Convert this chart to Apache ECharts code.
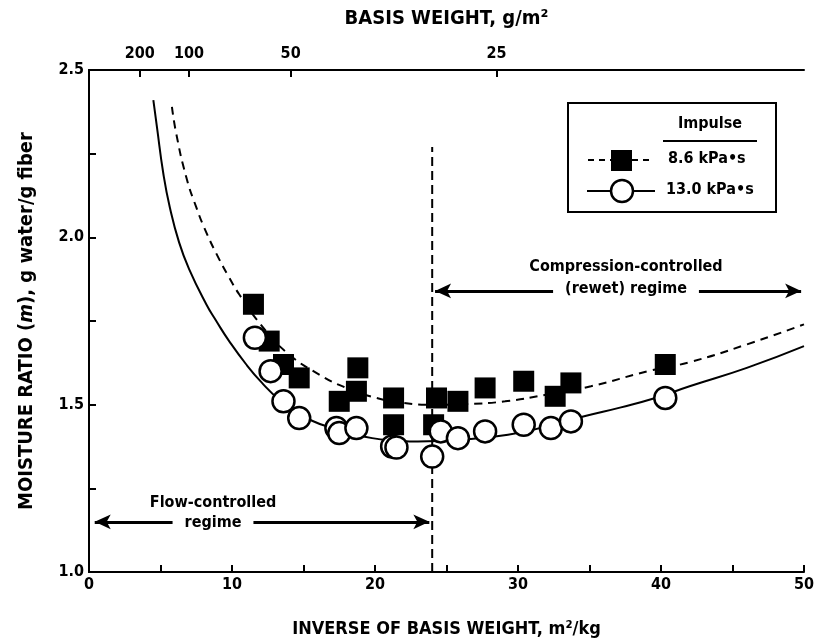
<!DOCTYPE html>
<html>
<head>
<meta charset="utf-8">
<script src="https://cdn.jsdelivr.net/npm/echarts@6/dist/echarts.min.js"></script>
<style>
  html, body { margin: 0; padding: 0; background: #fff; }
  #chart { width: 817px; height: 643px; }
</style>
</head>
<body>
<div id="chart"></div>
<script>
// measured points, impulse 8.6 kPa*s (filled squares)
var squares86 = [
  [11.5, 1.80], [12.6, 1.69], [13.6, 1.62], [14.7, 1.58], [17.5, 1.51],
  [18.8, 1.61], [18.7, 1.54], [21.3, 1.52], [21.3, 1.44], [24.1, 1.44],
  [24.3, 1.52], [25.8, 1.51], [27.7, 1.55], [30.4, 1.57], [32.6, 1.525],
  [33.7, 1.565], [40.3, 1.62]
];
// measured points, impulse 13.0 kPa*s (open circles)
var circles130 = [
  [11.6, 1.70], [12.7, 1.60], [13.6, 1.51], [14.7, 1.46], [17.3, 1.43],
  [17.5, 1.415], [18.7, 1.43], [21.2, 1.375], [21.5, 1.372], [24.0, 1.345],
  [24.6, 1.42], [25.8, 1.40], [27.7, 1.42], [30.4, 1.44], [32.3, 1.43],
  [33.7, 1.45], [40.3, 1.52]
];
// fitted curves
var curve86 = [
  [5.8, 2.39], [6.1, 2.31], [6.8, 2.18], [7.5, 2.09], [8.2, 2.015],
  [9.1, 1.935], [9.8, 1.88], [10.5, 1.83], [12.0, 1.74], [13.8, 1.657],
  [16.1, 1.59], [18.0, 1.55], [20.1, 1.52], [22.0, 1.505], [24, 1.50],
  [26.5, 1.502], [29.1, 1.51], [32.0, 1.53], [35.1, 1.555], [39.1, 1.60],
  [42, 1.627], [46, 1.68], [50, 1.74]
];
var curve130 = [
  [4.5, 2.41], [4.75, 2.33], [5.2, 2.19], [5.65, 2.09], [6.3, 1.985],
  [7.0, 1.905], [8.2, 1.80], [8.9, 1.75], [9.8, 1.69], [11.0, 1.62],
  [12.1, 1.565], [13.3, 1.515], [14.5, 1.478], [15.6, 1.452], [16.8, 1.433],
  [18.3, 1.415], [19.8, 1.40], [21.5, 1.393], [23, 1.39], [26, 1.395],
  [29.3, 1.41], [32.0, 1.435], [34.7, 1.466], [37.2, 1.492], [39.6, 1.52],
  [42, 1.555], [46, 1.61], [50, 1.675]
];
// regime boundary
var boundaryX = 24;
var boundaryTop = 2.27;
// top axis (basis weight, g/m2)
var topTickPos = [3.55, 7.0, 14.1, 28.5];
var topTickLabels = ['200', '100', '50', '25'];

var FONT = '"Liberation Sans Narrow", "DejaVu Sans Condensed", Arial, sans-serif';

var myChart = echarts.init(document.getElementById('chart'), null, { renderer: 'canvas' });

var axisLine = { show: true, lineStyle: { color: '#000', width: 2 } };
var tickIn = { show: true, inside: true, length: 7, lineStyle: { color: '#000', width: 2 } };
var labelStyle = { color: '#000', fontFamily: FONT, fontWeight: 'bold', fontSize: 16 };
var titleStyle = { color: '#000', fontFamily: FONT, fontWeight: 'bold', fontSize: 19 };

var option = {
  animation: false,
  backgroundColor: '#fff',
  grid: { left: 89, right: 9, top: 70, bottom: 70 },
  xAxis: [
    {
      type: 'value', min: 0, max: 50, interval: 5, position: 'bottom',
      axisLine: axisLine, axisTick: tickIn, splitLine: { show: false },
      axisLabel: Object.assign({}, labelStyle, {
        margin: 5,
        formatter: function (v) { return v % 10 === 0 ? String(v) : ''; }
      }),
      name: 'INVERSE OF BASIS WEIGHT, m²/kg',
      nameLocation: 'middle', nameGap: 48,
      nameTextStyle: Object.assign({}, titleStyle, { fontSize: 18 })
    },
    {
      type: 'value', min: 0, max: 50, position: 'top',
      axisLine: axisLine,
      axisTick: Object.assign({}, tickIn, { customValues: topTickPos }),
      splitLine: { show: false },
      axisLabel: Object.assign({}, labelStyle, {
        margin: 8,
        customValues: topTickPos,
        formatter: function (v) {
          var i = topTickPos.indexOf(v);
          return i >= 0 ? topTickLabels[i] : '';
        }
      }),
      name: 'BASIS WEIGHT, g/m²',
      nameLocation: 'middle', nameGap: 41,
      nameTextStyle: Object.assign({}, titleStyle, { fontSize: 20 })
    }
  ],
  yAxis: [
    {
      type: 'value', min: 1, max: 2.5, interval: 0.25,
      axisLine: axisLine, axisTick: tickIn, splitLine: { show: false },
      axisLabel: Object.assign({}, labelStyle, {
        margin: 5,
        formatter: function (v) {
          return Math.round(v * 100) % 50 === 0 ? v.toFixed(1) : '';
        }
      }),
      name: '{a|MOISTURE RATIO (}{b|m}{a|), g water/g fiber}',
      nameLocation: 'middle', nameGap: 52,
      nameTextStyle: {
        rich: {
          a: Object.assign({}, titleStyle, { fontSize: 20 }),
          b: Object.assign({}, titleStyle, { fontSize: 20, fontStyle: 'italic' })
        }
      }
    },
    {
      type: 'value', min: 1, max: 2.5, position: 'right',
      axisLine: axisLine, axisTick: { show: false }, axisLabel: { show: false },
      splitLine: { show: false }
    }
  ],
  series: [
    {
      name: 'curve 8.6', type: 'line', smooth: 0.5, showSymbol: false, z: 2,
      data: curve86,
      lineStyle: { color: '#000', width: 2, type: [8, 6] }
    },
    {
      name: 'curve 13.0', type: 'line', smooth: 0.5, showSymbol: false, z: 2,
      data: curve130,
      lineStyle: { color: '#000', width: 2 }
    },
    {
      name: 'boundary', type: 'line', showSymbol: false, z: 1,
      data: [[boundaryX, 1], [boundaryX, boundaryTop]],
      lineStyle: { color: '#000', width: 2, type: [9, 5] },
      markLine: {
        silent: true, symbol: ['arrow', 'arrow'], symbolSize: [11, 16],
        label: { show: false },
        lineStyle: { color: '#000', width: 3, type: 'solid' },
        data: [
          [{ coord: [0.4, 1.15] }, { coord: [23.8, 1.15] }],
          [{ coord: [24.2, 1.84] }, { coord: [49.8, 1.84] }]
        ]
      }
    },
    {
      name: '8.6 kPa•s', type: 'scatter', z: 3,
      symbol: 'rect', symbolSize: 21,
      itemStyle: { color: '#000', opacity: 1 },
      data: squares86
    },
    {
      name: '13.0 kPa•s', type: 'scatter', z: 4,
      symbol: 'circle', symbolSize: 22,
      itemStyle: { color: '#fff', borderColor: '#000', borderWidth: 2.5, opacity: 1 },
      data: circles130
    }
  ],
  graphic: [
    // regime labels (white background hides the arrow line behind "regime")
    { type: 'text', x: 213, y: 495, z: 100,
      style: { text: 'Flow-controlled', fill: '#000', font: 'bold 16px ' + FONT, align: 'center' } },
    { type: 'text', x: 213, y: 515, z: 100,
      style: { text: 'regime', fill: '#000', font: 'bold 16px ' + FONT, align: 'center',
        backgroundColor: '#fff', padding: [0, 12] } },
    { type: 'text', x: 626, y: 259, z: 100,
      style: { text: 'Compression-controlled', fill: '#000', font: 'bold 16px ' + FONT, align: 'center' } },
    { type: 'text', x: 626, y: 281, z: 100,
      style: { text: '(rewet) regime', fill: '#000', font: 'bold 16px ' + FONT, align: 'center',
        backgroundColor: '#fff', padding: [0, 12] } },
    // legend box
    { type: 'rect', shape: { x: 568, y: 103, width: 208, height: 109 }, z: 100,
      style: { fill: '#fff', stroke: '#000', lineWidth: 2 } },
    { type: 'text', x: 710, y: 116, z: 101,
      style: { text: 'Impulse', fill: '#000', font: 'bold 16px ' + FONT, align: 'center' } },
    { type: 'line', shape: { x1: 663, y1: 141, x2: 757, y2: 141 }, z: 101,
      style: { stroke: '#000', lineWidth: 2 } },
    { type: 'line', shape: { x1: 588, y1: 160, x2: 652, y2: 160 }, z: 101,
      style: { stroke: '#000', lineWidth: 2, lineDash: [6, 5] } },
    { type: 'rect', shape: { x: 611, y: 150, width: 21, height: 21 }, z: 102,
      style: { fill: '#000' } },
    { type: 'text', x: 668, y: 151, z: 101,
      style: { text: '8.6 kPa•s', fill: '#000', font: 'bold 16px ' + FONT } },
    { type: 'line', shape: { x1: 587, y1: 191, x2: 655, y2: 191 }, z: 101,
      style: { stroke: '#000', lineWidth: 2 } },
    { type: 'circle', shape: { cx: 622, cy: 191, r: 11 }, z: 102,
      style: { fill: '#fff', stroke: '#000', lineWidth: 2.5 } },
    { type: 'text', x: 666, y: 182, z: 101,
      style: { text: '13.0 kPa•s', fill: '#000', font: 'bold 16px ' + FONT } }
  ]
};

option && myChart.setOption(option);
</script>
</body>
</html>
